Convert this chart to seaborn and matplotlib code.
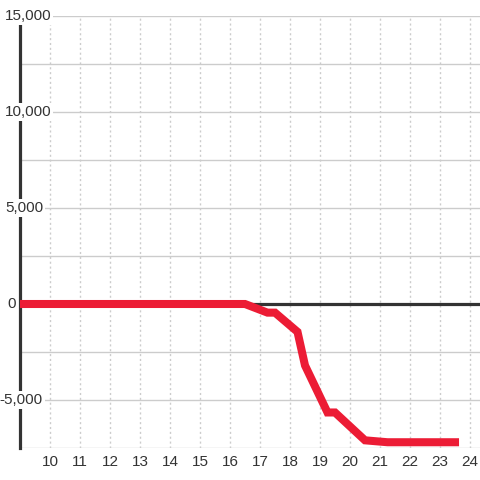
import matplotlib
matplotlib.use("Agg")
import matplotlib.pyplot as plt
import seaborn as sns
import pandas as pd

hours = [9.0, 16.5, 17.25, 17.5, 18.25, 18.5, 19.25, 19.5, 20.5, 21.25, 23.5]
values = [0, 0, -450, -450, -1450, -3200, -5650, -5650, -7100, -7200, -7200]
x_ticks = list(range(10, 25))
y_grid = [-7500, -5000, -2500, 0, 2500, 5000, 7500, 10000, 12500, 15000]
y_labels = [15000, 10000, 5000, 0, -5000]
y_label_right_px = [31, 31, 23, -4, 23]

sns.set_style("white")
plt.rcParams['font.family'] = ['Liberation Sans', 'DejaVu Sans']

df = pd.DataFrame({"hour": hours, "value": values})

fig = plt.figure(figsize=(4.8, 4.8), dpi=100)
fig.patch.set_facecolor("white")
ax = fig.add_axes([20/480, 32/480, 460/480, 432/480])
ax.set_facecolor("white")

ax.set_xlim(9, 9 + 460/30)
ax.set_ylim(-7500, 15000)

for g in y_grid:
    ax.axhline(g, color="#cccccc", lw=1, zorder=1)
for t in x_ticks:
    ax.axvline(t, color="#cccccc", lw=1, ls=(0, (1.5, 2)), zorder=1)

ax.axhline(0, color="#333333", lw=2.3, zorder=2)

sns.lineplot(data=df, x="hour", y="value", ax=ax, color="#ec1c35", lw=5.8,
             solid_capstyle="projecting", solid_joinstyle="miter", zorder=3)

ax.set_xticks(x_ticks)
ax.set_xticklabels([str(t) for t in x_ticks])
ax.set_yticks([])
ax.tick_params(axis="x", length=0, pad=5, labelsize=11, colors="#333333")
ax.set_xlabel("")
ax.set_ylabel("")

for s in ["top", "right", "bottom"]:
    ax.spines[s].set_visible(False)
ax.spines["left"].set_color("#333333")
ax.spines["left"].set_linewidth(2.3)
ax.spines["left"].set_zorder(2.5)

for v, rpx in zip(y_labels, y_label_right_px):
    ax.annotate(f"{v:,}", xy=(0, v), xycoords=ax.get_yaxis_transform(),
                xytext=(rpx, 0), textcoords="offset pixels",
                ha="right", va="center", fontsize=11, color="#333333",
                zorder=5, annotation_clip=False,
                bbox=dict(boxstyle="square,pad=0.15", fc="white", ec="none"))

fig.savefig("out.png", dpi=100, facecolor="white")
